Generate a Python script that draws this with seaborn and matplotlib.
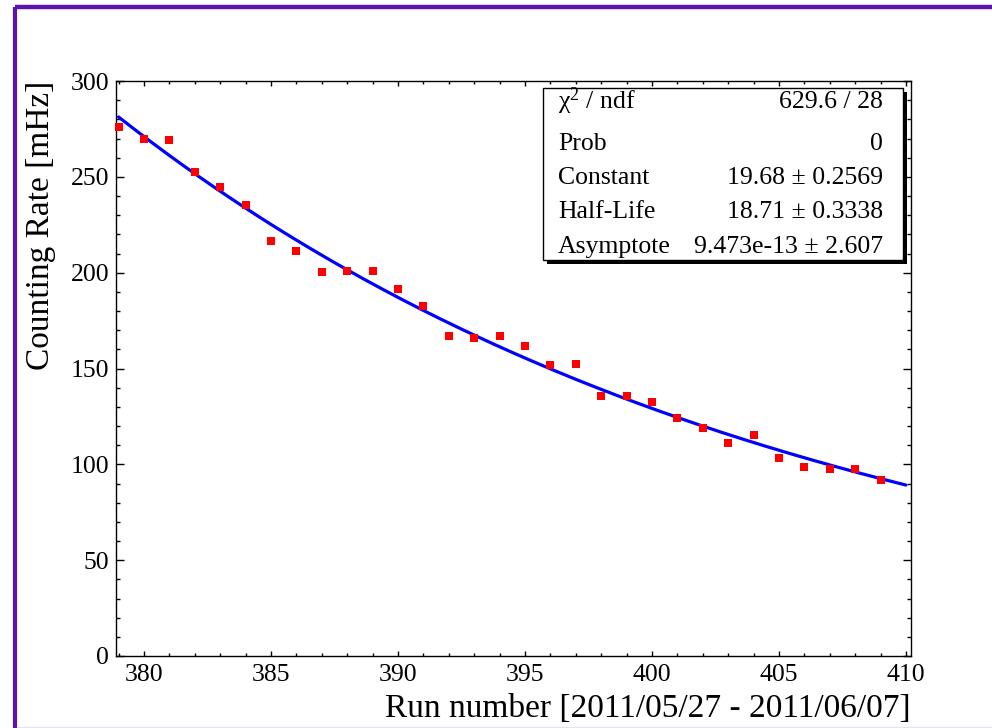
import numpy as np
import pandas as pd
import matplotlib
matplotlib.use("Agg")
import matplotlib.pyplot as plt
from matplotlib.patches import Rectangle
from matplotlib.lines import Line2D
from matplotlib.ticker import MultipleLocator
import seaborn as sns

# ---------------- data ----------------
runs = [379, 380, 381, 382, 383, 384, 385, 386, 387, 388, 389, 390, 391, 392, 393, 394,
        395, 396, 397, 398, 399, 400, 401, 402, 403, 404, 405, 406, 407, 408, 409]
rates = [276.2, 269.8, 269.3, 252.4, 244.8, 235.4, 216.5, 211.3, 200.4, 200.7, 201.0,
         191.7, 182.8, 166.8, 166.0, 166.8, 161.5, 151.7, 152.3, 135.9, 135.4, 132.4,
         124.3, 119.1, 110.9, 115.1, 103.5, 98.8, 97.4, 97.8, 91.7]

# fit parameters (from the stats box)
fit_constant = 19.68
fit_halflife = 18.71
fit_asymptote = 9.473e-13
fit_range = (379, 410)

stat_names = ["χ$^{\\mathrm{2}}$ / ndf", "Prob", "Constant", "Half-Life", "Asymptote"]
stat_values = ["629.6 / 28", "0", "19.68 ± 0.2569", "18.71 ± 0.3338", "9.473e-13 ± 2.607"]

xlabel = "Run number [2011/05/27 - 2011/06/07]"
ylabel = "Counting Rate [mHz]"

# ---------------- style ----------------
sns.set_theme(style="ticks")
plt.rcParams["font.family"] = ["Liberation Serif", "DejaVu Serif"]
plt.rcParams["mathtext.fontset"] = "custom"
plt.rcParams["mathtext.rm"] = "Liberation Serif"
plt.rcParams["mathtext.it"] = "Liberation Serif:italic"

W, H = 992, 728
fig = plt.figure(figsize=(W / 100, H / 100), dpi=100)
AX_L, AX_R, AX_T, AX_B = 116, 911, 81, 656
ax = fig.add_axes([AX_L / W, (H - AX_B) / H, (AX_R - AX_L) / W, (AX_B - AX_T) / H])

df = pd.DataFrame({"run": runs, "rate": rates})
xs = np.linspace(fit_range[0], fit_range[1], 300)
fit_df = pd.DataFrame({"run": xs,
                       "rate": np.exp(fit_constant - np.log(2) / fit_halflife * xs) + fit_asymptote})

sns.lineplot(data=fit_df, x="run", y="rate", ax=ax, color="#0000ff", linewidth=2.3, zorder=3)
sns.scatterplot(data=df, x="run", y="rate", ax=ax, marker="s", s=40, color="#ff0000",
                linewidth=0, zorder=4, clip_on=False)

ax.set_xlim(378.9, 410.2)
ax.set_ylim(0, 300)

ax.xaxis.set_major_locator(MultipleLocator(5))
ax.xaxis.set_minor_locator(MultipleLocator(1))
ax.yaxis.set_major_locator(MultipleLocator(50))
ax.yaxis.set_minor_locator(MultipleLocator(10))
ax.tick_params(which="both", direction="in", top=True, right=True, colors="black",
               labelsize=18.5, width=1.0)
ax.tick_params(axis="x", which="major", length=3.8, pad=6)
ax.tick_params(axis="x", which="minor", length=2.0)
ax.tick_params(axis="y", which="major", length=5.8, pad=5)
ax.tick_params(axis="y", which="minor", length=2.9)
for sp in ax.spines.values():
    sp.set_visible(True)
    sp.set_color("black")
    sp.set_linewidth(1.0)

ax.set_xlabel(xlabel, fontsize=24, loc="right", color="black")
ax.set_ylabel(ylabel, fontsize=24, loc="top", color="black")
ax.xaxis.set_label_coords(1.0, (AX_B - 694) / (AX_B - AX_T))
ax.yaxis.set_label_coords((56 - AX_L) / (AX_R - AX_L), 1.0)


def fx(x):
    return (x - AX_L) / (AX_R - AX_L)


def fy(y):
    return (AX_B - y) / (AX_B - AX_T)


# stats box with shadow
bx0, bx1, by0, by1 = 543, 903, 88, 260
sh = 4
ax.add_patch(Rectangle((fx(bx0 + sh), fy(by1 + sh)), fx(bx1 + sh) - fx(bx0 + sh),
                       fy(by0 + sh) - fy(by1 + sh), transform=ax.transAxes,
                       facecolor="black", edgecolor="black", lw=0, zorder=6, clip_on=False))
ax.add_patch(Rectangle((fx(bx0), fy(by1)), fx(bx1) - fx(bx0), fy(by0) - fy(by1),
                       transform=ax.transAxes, facecolor="white", edgecolor="black",
                       lw=1.0, zorder=7, clip_on=False))
baselines = [108.5, 150, 184, 218.5, 253]
for name, val, b in zip(stat_names, stat_values, baselines):
    ax.text(fx(558), fy(b), name, transform=ax.transAxes, fontsize=18.5, ha="left",
            va="baseline", zorder=8, color="black")
    ax.text(fx(883), fy(b), val, transform=ax.transAxes, fontsize=18.5, ha="right",
            va="baseline", zorder=8, color="black")

# purple page border
purple = "#5a14aa"
fig.add_artist(Line2D([14.7 / W, 1.0], [1 - 7.3 / H, 1 - 7.3 / H], transform=fig.transFigure,
                      color=purple, linewidth=3.2, solid_capstyle="butt"))
fig.add_artist(Line2D([14.7 / W, 14.7 / W], [0.0, 1 - 7.3 / H], transform=fig.transFigure,
                      color=purple, linewidth=3.0, solid_capstyle="butt"))
fig.add_artist(Line2D([16.5 / W, 1.0], [0.6 / H, 0.6 / H], transform=fig.transFigure,
                      color="#e6e4ee", linewidth=1.0))

fig.savefig("out.png", dpi=100, facecolor="white")
